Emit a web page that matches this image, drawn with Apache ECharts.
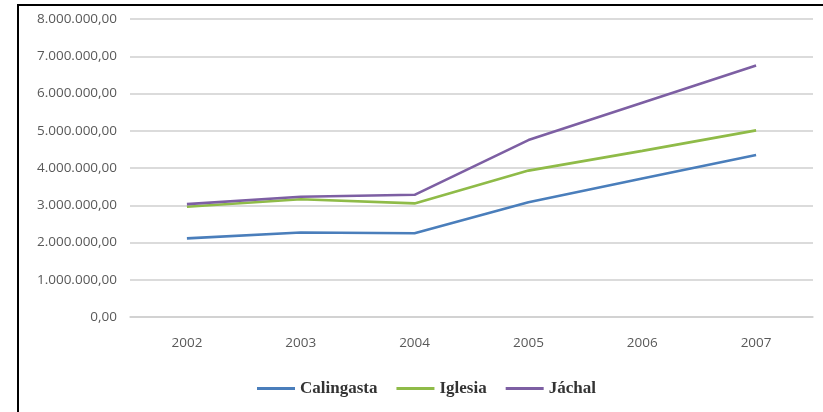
<!DOCTYPE html>
<html>
<head>
<meta charset="utf-8">
<script src="https://cdn.jsdelivr.net/npm/echarts@6/dist/echarts.min.js"></script>
<style>
    html, body { margin: 0; padding: 0; background: #fff; }
    #chart { width: 823px; height: 412px; }
    /* Frame of the original picture: only left and top edges are visible */
    .frame {
        position: absolute; left: 17px; top: 4px; width: 900px; height: 500px;
        border-left: 2px solid #000; border-top: 2px solid #000;
        pointer-events: none;
    }
</style>
</head>
<body>
<div id="chart"></div>
<div class="frame"></div>
<script>
/*
|--------------------------------------------------------------------------
| Data
|--------------------------------------------------------------------------
*/

const years = ['2002', '2003', '2004', '2005', '2006', '2007'];

const calingasta = [2110000, 2270000, 2250000, 3080000, 3720000, 4350000];
const iglesia = [2960000, 3160000, 3050000, 3930000, 4460000, 5010000];
const jachal = [3030000, 3230000, 3280000, 4750000, 5750000, 6750000];

const seriesNames = ['Calingasta', 'Iglesia', 'Jáchal'];
const seriesColors = ['#4a7ebb', '#8fbb48', '#7d5fa3'];

/*
|--------------------------------------------------------------------------
| Helpers
|--------------------------------------------------------------------------
*/

// Spanish style: 8.000.000,00
function formatNumber(v) {
    const parts = v.toFixed(2).split('.');
    parts[0] = parts[0].replace(/\B(?=(\d{3})+(?!\d))/g, '.');
    return parts.join(',');
}

/*
|--------------------------------------------------------------------------
| Chart
|--------------------------------------------------------------------------
*/

const chart = echarts.init(document.getElementById('chart'), null, { renderer: 'canvas' });

const series = [calingasta, iglesia, jachal].map((data, i) => ({
    name: seriesNames[i],
    type: 'line',
    data,
    symbol: 'none',
    lineStyle: { width: 2.6, color: seriesColors[i] },
    itemStyle: { color: seriesColors[i] },
}));

chart.setOption({
    animation: false,
    grid: { left: 130, right: 10, top: 19, bottom: 95 },
    legend: {
        left: 252,
        top: 375,
        icon: 'rect',
        itemWidth: 38,
        itemHeight: 3,
        itemGap: 19,
        textStyle: {
            fontFamily: 'Liberation Serif',
            fontWeight: 'bold',
            fontSize: 17,
            color: '#333',
        },
        data: seriesNames,
    },
    xAxis: {
        type: 'category',
        data: years,
        axisLine: { lineStyle: { color: '#cfcfcf', width: 1.5 } },
        axisTick: { show: false },
        axisLabel: {
            margin: 19,
            fontFamily: 'Open Sans',
            fontSize: 13.5,
            color: '#595959',
        },
    },
    yAxis: {
        type: 'value',
        min: 0,
        max: 8000000,
        interval: 1000000,
        axisLine: { show: false },
        axisTick: { show: false },
        splitLine: { lineStyle: { color: '#cfcfcf', width: 1.5 } },
        axisLabel: {
            margin: 13,
            fontFamily: 'Open Sans',
            fontSize: 13.5,
            color: '#595959',
            formatter: formatNumber,
        },
    },
    series,
});
</script>
</body>
</html>
